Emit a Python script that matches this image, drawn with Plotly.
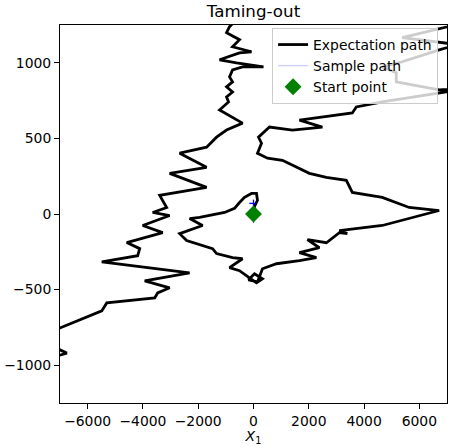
import plotly.graph_objects as go

# expectation path (X1, X2); some vertices sit just outside the view
exp_x = [0, 36, 144, 108, -72, -325, -506, -686, -1047, -1950, -2311, -1842, -2672, -2419,
         -1481, -1336, -758, -397, -867, -506, -144, 108, 325, 36, -181, 144, 325, 831, 1661,
         2275, 1661, 2383, 1950, 2636, 3105, 3394, 3105, 4658, 6716, 5633, 4658, 3575, 3358,
         2636, 2022, 1553, 1047, 506, 144, 289, 181, 578, 1408, 2492, 1661, 3575, 3719, 4658,
         6969, 7400, 6716, 5164, 5164, 4658, 5380, 6716, 7400, 5380, 7500, 0, -867, -975,
         -506, -758, -397, -72, -506, -1228, -614, 361, -397, -758, -867, -758, -975, -758,
         -975, -903, -1228, -758, -397, -975, -1336, -1697, -2672, -1697, -3033, -1697, -3394,
         -3142, -3647, -3033, -4008, -3286, -4586, -4117, -4189, -5489, -2311, -3936, -3033,
         -3467, -3575, -5308, -5489, -7005, -7800, -6753, -7500]
exp_y = [0, 50, 90, 136, 136, 110, 76, 37, 10, -23, -30, -76, -130, -176,
         -229, -262, -289, -296, -355, -375, -422, -455, -429, -395, -435, -449, -362, -329, -309,
         -289, -256, -223, -170, -190, -123, -130, -110, -76, 23, 43, 110, 143, 223,
         243, 269, 309, 355, 369, 402, 468, 508, 575, 555, 575, 621, 668, 708, 741,
         807, 830, 821, 874, 934, 973, 1007, 1086, 1120, 1166, 1260, 1400, 1239, 1199,
         1153, 1106, 1086, 1073, 1066, 1020, 1000, 973, 973, 953, 907, 874, 841, 807,
         774, 741, 688, 641, 601, 555, 508, 442, 402, 309, 269, 176, 123,
         43, 10, -10, -76, -123, -189, -229, -276, -316, -389, -442, -488,
         -522, -555, -588, -641, -754, -830, -920, -960]

# sample path bits visible around the start
sample_x = [0, 0, 0, None, -150, 60]
sample_y = [-57, 0, 95, None, 70, 70]

start_x = [0]
start_y = [0]

x_ticks = [-6000, -4000, -2000, 0, 2000, 4000, 6000]
x_labels = ['−6000', '−4000', '−2000', '0', '2000', '4000', '6000']
y_ticks = [-1000, -500, 0, 500, 1000]
y_labels = ['−1000', '−500', '0', '500', '1000']

fig = go.Figure()
fig.add_trace(go.Scatter(x=exp_x, y=exp_y, mode='lines', name='Expectation path',
                         line=dict(color='black', width=2.8)))
fig.add_trace(go.Scatter(x=sample_x, y=sample_y, mode='lines', name='Sample path',
                         line=dict(color='rgba(0,0,255,0.18)', width=1.5)))
fig.add_trace(go.Scatter(x=sample_x, y=sample_y, mode='lines', showlegend=False,
                         line=dict(color='blue', width=1.2)))
fig.add_trace(go.Scatter(x=start_x, y=start_y, mode='markers', name='Start point',
                         marker=dict(symbol='diamond', color='green', size=13)))

axis_style = dict(showgrid=False, zeroline=False, showline=True, linecolor='black',
                  linewidth=1, mirror=True, ticks='outside', ticklen=5, tickcolor='black',
                  tickfont=dict(size=13.9, color='black'), automargin=False)

fig.update_layout(
    width=453, height=446, autosize=False,
    margin=dict(l=60, r=6, t=25, b=43),
    paper_bgcolor='white', plot_bgcolor='white',
    font=dict(family='DejaVu Sans', color='black'),
    title=dict(text='Taming-out', xref='paper', x=0.5, xanchor='center',
               yref='container', y=0.975, yanchor='middle',
               font=dict(size=16.7, color='black'), automargin=False),
    xaxis=dict(range=[-7000, 7000], tickmode='array', tickvals=x_ticks, ticktext=x_labels,
               title=dict(text='<i>X</i><sub>1</sub>', font=dict(size=14)),
               **axis_style),
    yaxis=dict(range=[-1250, 1250], tickmode='array', tickvals=y_ticks, ticktext=y_labels,
               **axis_style),
    legend=dict(x=0.548, y=0.992, xanchor='left', yanchor='top',
                bgcolor='rgba(255,255,255,0.8)', bordercolor='#cccccc', borderwidth=1,
                font=dict(size=13.9), tracegroupgap=0),
    showlegend=True,
)

# page body has a default 8px margin; drop it so the figure sits at the corner
fig.write_html("out.html", config={'displayModeBar': False},
               post_script="document.body.style.margin='0';")
